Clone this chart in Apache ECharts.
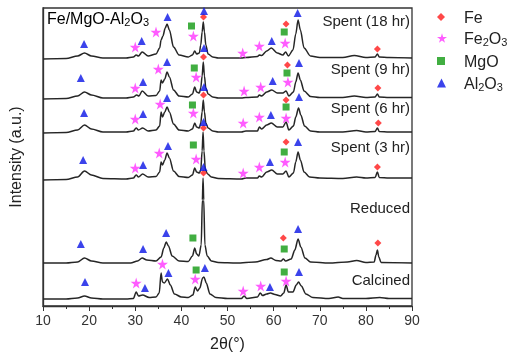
<!DOCTYPE html>
<html>
<head>
<meta charset="utf-8">
<script src="https://cdn.jsdelivr.net/npm/echarts@6/dist/echarts.min.js"></script>
<style>
  html, body { margin: 0; padding: 0; background: #fff; }
  #main { width: 510px; height: 360px; }
</style>
</head>
<body>
<div id="main"></div>
<script>
// 各样品的 XRD 曲线（2θ, 叠加后强度）
var calcined = [[10,7],[15,7],[17.5,8],[19,10],[20.5,8],[23,7],[28,7],[29.6,7.5],[30.2,14],[30.7,10],[31.6,11],[33,8.5],[34.5,9],[35.2,13],[35.6,33],[35.9,24],[36.3,23],[37,27],[37.6,21],[38.5,12],[40,9],[41.5,8.5],[42.5,11],[43,19],[43.5,15],[44,18],[44.6,28],[44.9,29],[45.4,23],[46.2,12],[47.5,8.5],[50,7.5],[53,7.5],[53.6,10],[54.2,7.5],[56.5,9],[57.1,13],[57.6,10.5],[58.5,12],[59.3,13],[60.3,11.5],[61.5,10],[62.2,13],[62.7,21],[63.2,14],[64.2,14],[64.9,21],[65.4,24],[66,20],[67,12],[68.5,8.5],[72,7.5],[74,9],[75,7.5],[80,7.5],[83,8.5],[85,7.5],[90,7.5]];
var reduced = [[10,43],[15,43],[17.5,44],[19,48],[20.5,45],[23,43],[29,43],[30.5,45],[31.5,48],[32.5,46],[34.5,45],[35.6,49],[36.2,58],[36.7,64],[37.2,60],[38,50],[39.5,45],[41.5,44.5],[42.4,50],[42.9,58],[43.3,52],[43.8,50],[44.3,61],[44.55,106],[44.7,128],[44.85,106],[45.1,61],[45.6,50],[46.5,45],[48,43.5],[52,43],[56,44],[58.5,46.5],[59.4,48],[60.5,45.5],[61.6,45],[62.1,47],[62.6,45],[63.8,47],[64.6,56],[65.3,67],[65.9,59],[66.8,48],[68,44],[72,43],[76,44],[78,45.5],[80,43.5],[81.8,44],[82.2,51],[82.5,56],[82.8,49],[83.3,43.5],[90,43]];
var spent3 = [[10,126],[15,126.5],[17.5,129],[19,135],[20.5,131],[23,127.5],[28,127],[29.6,128],[30.2,131],[30.7,129],[31.6,132],[32.8,129],[34.5,129.5],[35.3,134],[35.6,144],[35.9,141],[36.4,146],[36.9,153],[37.4,148],[38.3,135],[39.5,129.5],[41.5,128.5],[42.4,131],[42.9,138],[43.3,134],[43.9,133],[44.2,136],[44.5,155],[44.7,174],[44.9,155],[45.2,136],[45.7,132],[46.5,129],[48,127.5],[53,127],[54,128],[56.5,128],[56.9,130],[57.4,129],[58.5,134],[59.6,136],[60.8,132],[62,132],[62.7,135],[63.3,129],[64.3,133],[64.8,144],[65.3,154],[65.8,146],[66.6,134],[67.8,129],[70,128],[75,127.5],[78,129],[80,128],[82,128.5],[82.5,134],[82.9,128.5],[85,128],[90,128]];
var spent6 = [[10,173],[15,173.5],[17.5,176],[19,181],[20.5,177],[23,174],[28,174],[29.6,175],[30.2,178],[30.7,176],[31.6,178],[32.8,175],[34.5,176],[35.3,180],[35.6,194],[35.9,189],[36.4,194],[36.9,199],[37.4,194],[38.3,182],[39.5,176],[41.5,175],[42.4,177],[42.9,183],[43.3,179],[43.9,178],[44.2,183],[44.5,194],[44.75,206],[45,194],[45.3,183],[45.8,178],[46.8,175],[48,174],[53,174],[54,175],[56.5,175],[56.9,179],[57.4,177],[58.5,181],[59.5,183],[60.8,179],[62,179],[62.7,184],[63.3,176],[64.3,180],[64.8,189],[65.4,198],[65.9,191],[66.7,180],[68,175],[70,174],[75,174],[78,175.5],[80,174],[82,174.5],[82.5,178],[82.9,174.5],[85,174],[90,174]];
var spent9 = [[10,207],[15,207.5],[17.5,210],[19,214],[20.5,211],[23,208],[28,208],[29.6,209],[30.3,211],[30.8,210],[31.5,215],[32.8,210],[34.5,210.5],[35.3,215],[35.6,226],[35.9,223],[36.4,227],[36.9,234],[37.4,229],[38.3,216],[39.5,210],[41.5,209],[42.4,212],[42.9,219],[43.3,214],[43.9,213],[44.2,218],[44.5,230],[44.75,244],[45,230],[45.3,218],[45.8,212],[46.8,209],[48,208],[53,208],[54,208.5],[56.5,209],[56.9,211],[57.4,210],[58.5,214],[59.6,216],[60.8,213],[62,213],[62.7,215],[63.3,210],[64.3,214],[64.8,224],[65.3,233],[65.8,226],[66.6,215],[68,209.5],[70,208.5],[75,208.5],[77.5,210],[80,208.5],[82,209],[82.5,212],[82.9,209],[85,208.5],[90,208.5]];
var spent18 = [[10,247],[15,247.5],[17.5,250],[19,253],[20.5,250],[23,248],[28,248],[29.6,249],[30.2,251],[30.7,250],[31.5,254],[32.8,250],[34.5,252],[35.3,258],[35.6,266],[36,270],[36.5,278],[36.9,282],[37.4,276],[38.3,259],[39.5,251],[41.5,249],[42.4,251],[42.9,255],[43.3,252],[43.9,253],[44.2,261],[44.5,274],[44.75,284],[45,274],[45.3,261],[45.8,252],[46.8,249],[48,248],[53,248],[54,248.5],[56.5,249.5],[56.9,251],[57.4,250.5],[58.5,255],[59.5,258],[60.8,253],[62,251],[62.6,254],[63.2,250],[64.2,256],[64.8,272],[65.3,286],[65.8,276],[66.6,258],[68,250],[70,248.5],[75,248.5],[77.5,250.5],[80,248.5],[82,249],[82.5,252],[82.9,249],[85,248.5],[90,248]];

// 物相标记
var feMarks = [[44.8,289],[62.7,282],[82.5,257],[44.8,249],[63.0,241],[82.6,218],[44.8,211],[62.7,206],[82.7,183],[44.8,178],[62.7,164],[82.5,139],[44.8,133],[62.1,68],[82.6,63]];
var fe2o3Marks = [[30.0,259],[34.5,274],[42.6,270],[53.3,253],[56.9,260],[62.5,263],
  [30.0,218],[35.0,237],[43.2,229],[53.6,215],[57.2,219],[63.1,224],
  [30.0,187],[35.4,202],[42.6,193],[53.4,183],[56.9,189],[62.7,188],
  [30.0,138],[35.2,153],[43.2,147],[53.4,133],[56.9,139],[62.5,144],
  [30.2,23],[35.9,42],[43.0,27],[53.4,15],[57.2,20],[62.7,25]];
var mgoMarks = [[42.2,280],[62.3,274],[42.8,238],[62.9,233],[42.4,201],[62.7,199],[42.6,161],[62.3,154],[42.5,68],[62.3,57],[43.2,36],[62.3,34]];
var al2o3Marks = [[18.9,262],[31.4,265],[37.0,289],[44.9,295],[59.6,265],[65.2,293],
  [18.2,228],[31.7,224],[36.9,244],[44.9,258],[59.8,225],[65.5,243],
  [18.9,193],[31.7,192],[36.9,208],[44.9,219],[59.4,191],[65.5,209],
  [18.7,146],[31.7,141],[37.1,160],[44.8,184],[59.2,144],[65.3,164],
  [18.2,62],[31.7,57],[36.7,73],[44.8,139],[65.3,77],
  [19.1,24],[32.1,18],[37.2,33],[45.1,38],[59.2,19],[65.5,34]];

var xTicks = [10, 20, 30, 40, 50, 60, 70, 80, 90];
var sampleNames = ['Spent (18 hr)', 'Spent (9 hr)', 'Spent (6 hr)', 'Spent (3 hr)', 'Reduced', 'Calcined'];

var FONT = '"Liberation Sans", Arial, sans-serif';
var starPath = 'path://M50,0 L61,35 L98,35 L68,57 L79,91 L50,70 L21,91 L32,57 L2,35 L39,35 Z';

var myChart = echarts.init(document.getElementById('main'));

function curve(data) {
  return {
    type: 'line',
    data: data,
    showSymbol: false,
    smooth: 0.3,
    smoothMonotone: 'x',
    lineStyle: { color: '#262626', width: 1.5 },
    silent: true,
    z: 2
  };
}

function marks(name, data, symbol, size, color) {
  return {
    name: name,
    type: 'scatter',
    data: data,
    symbol: symbol,
    symbolSize: size,
    itemStyle: { color: color },
    z: 5
  };
}

var rich = {
  n: { fontSize: 16, lineHeight: 20, verticalAlign: 'bottom', fontFamily: FONT, color: '#222' },
  s: { fontSize: 11, lineHeight: 10, verticalAlign: 'bottom', fontFamily: FONT, color: '#222' }
};
var legendLabels = {
  'Fe': '{n|Fe}',
  'Fe2O3': '{n|Fe}{s|2}{n|O}{s|3}',
  'MgO': '{n|MgO}',
  'Al2O3': '{n|Al}{s|2}{n|O}{s|3}'
};
function legendRow(name, top, size) {
  return {
    data: [name],
    left: 432,
    top: top,
    itemWidth: size,
    itemHeight: size,
    itemGap: 0,
    formatter: function (n) { return legendLabels[n]; },
    textStyle: { rich: rich, padding: [0, 0, 0, 14 - (size - 8)] },
    selectedMode: false
  };
}

var labelTops = [14, 62, 101, 140, 201, 273];
var graphics = sampleNames.map(function (t, i) {
  return {
    type: 'text',
    right: 100,
    top: labelTops[i],
    style: { text: t, font: '15px ' + FONT, fill: '#222' }
  };
});
graphics.push({
  type: 'text',
  left: 47,
  top: 12,
  style: {
    text: '{n|Fe/MgO-Al}{s|2}{n|O}{s|3}',
    rich: rich
  }
});

var option = {
  animation: false,
  backgroundColor: '#fff',
  grid: {
    left: 43, right: 98, top: 8, bottom: 54,
    show: true, borderColor: '#333', borderWidth: 1.3
  },
  legend: [
    legendRow('Fe', 6, 8),
    legendRow('Fe2O3', 27, 10),
    legendRow('MgO', 50, 8),
    legendRow('Al2O3', 72, 9)
  ],
  xAxis: {
    type: 'value',
    min: 10,
    max: 90,
    interval: 10,
    name: '2θ(°)',
    nameLocation: 'middle',
    nameGap: 31,
    nameTextStyle: { fontSize: 16, fontFamily: FONT, color: '#222' },
    axisLine: { lineStyle: { color: '#333', width: 1.3 } },
    axisTick: { show: true, length: 5, lineStyle: { color: '#333' } },
    minorTick: { show: true, splitNumber: 2, length: 3, lineStyle: { color: '#333' } },
    axisLabel: {
      fontSize: 14, fontFamily: FONT, color: '#333', margin: 8,
      formatter: function (v) { return xTicks.indexOf(v) >= 0 ? v : ''; }
    },
    splitLine: { show: false }
  },
  yAxis: {
    type: 'value',
    min: 0,
    max: 298,
    name: 'Intensity (a.u.)',
    nameLocation: 'middle',
    nameGap: 18,
    nameTextStyle: { fontSize: 16, fontFamily: FONT, color: '#222' },
    axisLine: { show: true, lineStyle: { color: '#333', width: 1.3 } },
    axisTick: { show: false },
    axisLabel: { show: false },
    splitLine: { show: false }
  },
  graphic: graphics,
  series: [
    curve(calcined), curve(reduced), curve(spent3),
    curve(spent6), curve(spent9), curve(spent18),
    marks('Fe', feMarks, 'diamond', 7, '#ff1a1a'),
    marks('Fe2O3', fe2o3Marks, starPath, 11, '#ff33ff'),
    marks('MgO', mgoMarks, 'rect', 7, '#119a11'),
    marks('Al2O3', al2o3Marks, 'triangle', 8, '#0a14e6')
  ]
};

myChart.setOption(option);
</script>
</body>
</html>
